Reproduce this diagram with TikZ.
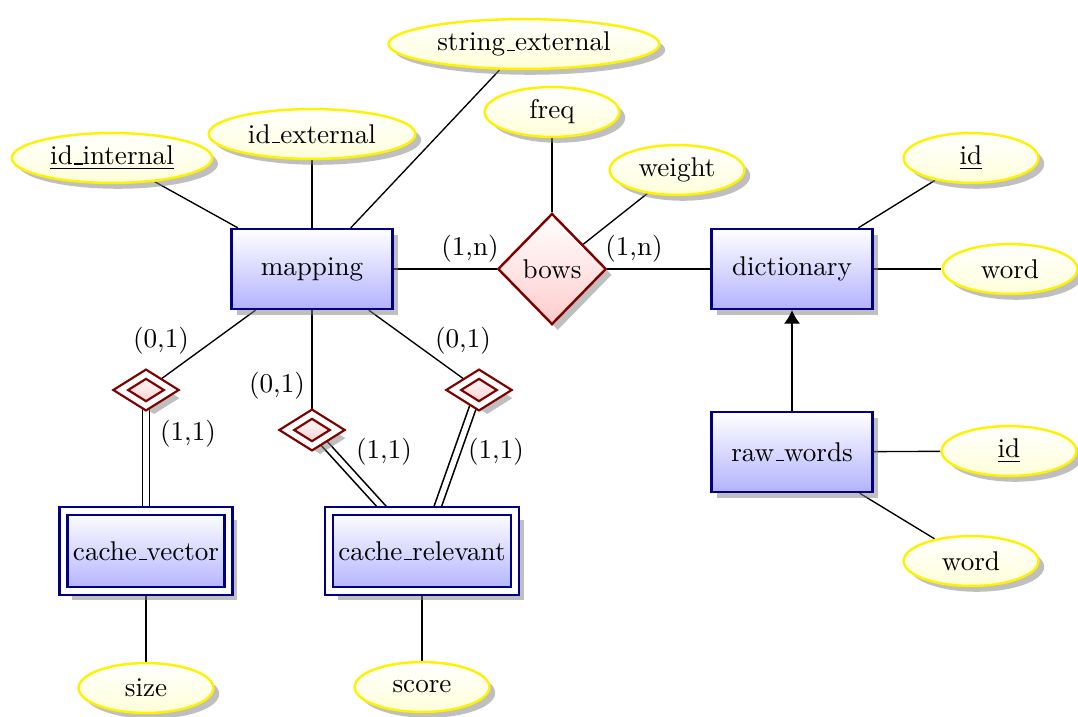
\documentclass[tikz,border=0pt]{standalone}
\usetikzlibrary{shapes.geometric,shadows,arrows.meta,backgrounds}
\newcommand\usc{\leavevmode\kern.06em\vbox{\hrule width.3em}}
\begin{document}
\begin{tikzpicture}[x=0.369pt,y=-0.369pt,
  entity/.style={rectangle, draw=blue!50!black, line width=0.9pt, top color=white, bottom color=blue!30,
    drop shadow, minimum width=59.3pt, minimum height=29.5pt, inner sep=2pt},
  weakentity/.style={rectangle, draw=blue!50!black, top color=white, bottom color=blue!30,
    drop shadow={shadow xshift=3.2pt, shadow yshift=-3.2pt},
    double, double distance=2pt, line width=0.9pt, minimum width=60.8pt, minimum height=29.5pt,
    inner ysep=2pt, inner xsep=3.5pt},
  attr/.style={ellipse, draw=yellow, line width=0.9pt, top color=white, bottom color=yellow!15,
    drop shadow, minimum width=49.7pt, minimum height=18.4pt, inner xsep=3.33pt, inner ysep=0pt},
  rel/.style={diamond, draw=red!50!black, line width=0.9pt, top color=white, bottom color=red!20,
    drop shadow, minimum width=40pt, minimum height=41pt, inner sep=0pt, aspect=1},
  weakrel/.style={diamond, draw=red!50!black, top color=white, bottom color=red!20,
    drop shadow={shadow xshift=3pt, shadow yshift=-3pt},
    double, double distance=2pt, line width=0.85pt, inner sep=0pt,
    minimum width=19pt, minimum height=12pt, aspect=1.55},
  link/.style={draw=black, line width=0.5pt},
  dlink/.style={draw=black, line width=0.6pt, double, double distance=2pt},
  card/.style={inner sep=1pt}
]
\useasboundingbox (0,0) rectangle (1078,716);

% entities
\node[entity] (map) at (312,269) {mapping};
\node[entity] (dict) at (792,269) {dictionary};
\node[entity] (raw) at (792,452) {raw\usc words};
\node[weakentity] (cv) at (146,551) {cache\usc vector};
\node[weakentity] (cr) at (422,551) {cache\usc relevant};

% relationships
\node[rel] (bows) at (552,269) {bows};
\node[weakrel] (r1) at (146,390) {};
\node[weakrel] (r2) at (312,430) {};
\node[weakrel] (r3) at (479,390) {};

% attributes
\node[attr] (idint) at (112,158) {\underline{id\usc internal}};
\node[attr] (idext) at (312,134) {id\usc external};
\node[attr] (strext) at (524,44) {string\usc external};
\node[attr] (freq) at (552,112) {freq};
\node[attr] (weight) at (677,170) {weight};
\node[attr] (did) at (971,158) {\underline{id}};
\node[attr] (dword) at (1010,269) {word};
\node[attr] (rid) at (1009,451) {\underline{id}};
\node[attr] (rword) at (971,561) {word};
\node[attr] (size) at (146,688) {size};
\node[attr] (score) at (422,687) {score};

% cardinalities
\node[card] (c1) at (470,249) {(1,n)};
\node[card] (c2) at (634,249) {(1,n)};
\node[card] (c3) at (161,341) {(0,1)};
\node[card] (c4) at (188,434) {(1,1)};
\node[card] (c5) at (277,386) {(0,1)};
\node[card] (c6) at (384,452) {(1,1)};
\node[card] (c7) at (463,341) {(0,1)};
\node[card] (c8) at (496,452) {(1,1)};

\begin{scope}[on background layer]
\draw[link] (idint) -- (map);
\draw[link] (idext) -- (map);
\draw[link] (strext) -- (map);
\draw[link] (freq) -- (bows);
\draw[link] (weight) -- (bows);
\draw[link] (map) -- (bows);
\draw[link] (bows) -- (dict);
\draw[link] (did) -- (dict);
\draw[link] (dword) -- (dict);
\draw[link] (rid) -- (raw);
\draw[link] (rword) -- (raw);
\draw[link] (map) -- (r1);
\draw[link] (map) -- (r2);
\draw[link] (map) -- (r3);
\draw[dlink] (r1) -- (cv);
\draw[dlink] (r2) -- (cr);
\draw[dlink] (r3) -- (cr);
\draw[link] (cv) -- (size);
\draw[link] (cr) -- (score);
\end{scope}
\draw[link,-{Latex[length=5pt,width=6pt]}] (raw) -- (dict);
\end{tikzpicture}
\end{document}
